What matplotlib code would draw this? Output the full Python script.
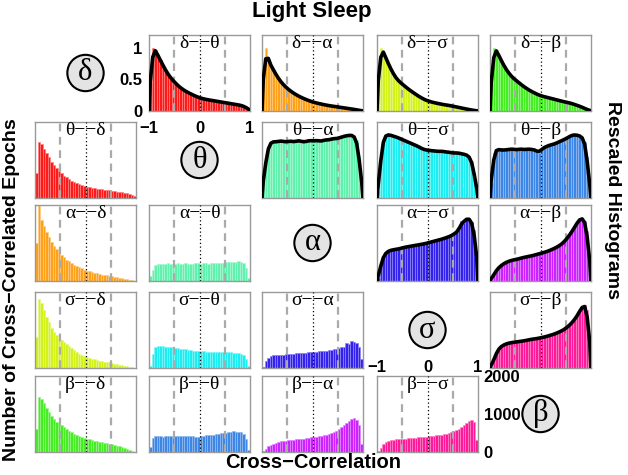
import numpy as np
import matplotlib
matplotlib.use("Agg")
import matplotlib.pyplot as plt
from matplotlib.colors import to_rgb

plt.rcParams['font.family'] = ['Liberation Sans', 'DejaVu Sans']

bands = ['δ', 'θ', 'α', 'σ', 'β']
bin_edges = np.linspace(-1, 1, 41)
centers = (bin_edges[:-1] + bin_edges[1:]) / 2

# counts of cross-correlated epochs, 40 bins over [-1, 1]
delta_theta = [660, 1475, 1420, 1300, 1180, 1070, 960, 860, 780, 710, 650, 590, 540, 500, 460, 430, 400, 370, 345, 320,
               300, 285, 270, 260, 250, 240, 230, 220, 210, 200, 190, 180, 170, 160, 150, 140, 130, 110, 80, 40]
delta_alpha = [1000, 2000, 1600, 1450, 1300, 1160, 1030, 920, 830, 750, 680, 620, 565, 515, 470, 430, 395, 360, 330, 300,
               275, 255, 235, 218, 200, 185, 170, 158, 146, 134, 122, 110, 98, 86, 74, 62, 50, 36, 22, 8]
delta_sigma = [820, 1810, 1700, 1520, 1350, 1200, 1060, 950, 860, 800, 740, 680, 620, 570, 520, 470, 420, 380, 340, 305,
               280, 260, 240, 225, 210, 195, 180, 170, 160, 145, 130, 115, 100, 85, 70, 55, 40, 28, 15, 5]
delta_beta = [600, 1460, 1400, 1280, 1160, 1050, 950, 870, 800, 740, 700, 650, 600, 560, 520, 480, 450, 420, 390, 365,
              345, 330, 315, 300, 285, 270, 255, 240, 225, 210, 200, 185, 170, 150, 130, 110, 85, 60, 35, 10]
theta_alpha = [120, 300, 420, 450, 460, 455, 460, 465, 460, 455, 460, 465, 455, 460, 470, 460, 455, 460, 465, 470,
               460, 470, 465, 460, 470, 475, 470, 480, 485, 480, 490, 495, 500, 510, 505, 515, 500, 470, 340, 80]
theta_sigma = [60, 380, 540, 575, 580, 575, 565, 560, 550, 540, 530, 520, 510, 500, 490, 480, 470, 455, 445, 440,
               435, 435, 430, 430, 425, 430, 425, 420, 420, 415, 410, 415, 410, 405, 400, 395, 380, 340, 230, 60]
theta_beta = [130, 380, 410, 415, 410, 405, 415, 410, 420, 415, 410, 415, 420, 410, 415, 420, 410, 415, 400, 385,
              420, 430, 440, 450, 455, 460, 470, 480, 490, 500, 510, 525, 535, 540, 535, 530, 520, 480, 350, 60]
alpha_sigma = [30, 180, 270, 310, 330, 340, 345, 350, 355, 360, 370, 375, 380, 385, 390, 395, 400, 405, 410, 415,
               425, 430, 440, 445, 455, 460, 470, 480, 490, 500, 520, 540, 560, 660, 640, 700, 690, 650, 560, 240]
alpha_beta = [20, 90, 150, 190, 220, 245, 265, 280, 290, 300, 305, 315, 325, 335, 340, 350, 355, 365, 375, 385,
              395, 405, 415, 430, 445, 460, 480, 500, 525, 560, 600, 650, 700, 760, 820, 870, 895, 850, 700, 220]
sigma_beta = [20, 110, 200, 260, 290, 310, 325, 335, 340, 345, 350, 355, 360, 365, 370, 380, 385, 390, 395, 400,
              410, 415, 425, 435, 445, 455, 470, 485, 500, 520, 545, 575, 610, 650, 700, 760, 820, 850, 780, 310]

pairs = {
    (0, 1): (delta_theta, '#ff1a1a'),
    (0, 2): (delta_alpha, '#ffa01a'),
    (0, 3): (delta_sigma, '#d2f21a'),
    (0, 4): (delta_beta, '#44ee22'),
    (1, 2): (theta_alpha, '#5ff2ad'),
    (1, 3): (theta_sigma, '#1aeef2'),
    (1, 4): (theta_beta, '#3c86e6'),
    (2, 3): (alpha_sigma, '#3322ee'),
    (2, 4): (alpha_beta, '#cc22ff'),
    (3, 4): (sigma_beta, '#ff1a99'),
}

W, H = 628, 475
col_left = [35, 149, 262, 377, 490]
row_top = [35, 122, 205, 292, 376]
pw, ph = 101, 76

fig = plt.figure(figsize=(W / 100, H / 100), dpi=100)


def make_axes(r, c):
    return fig.add_axes([col_left[c] / W, 1 - (row_top[r] + ph) / H, pw / W, ph / H])


def draw_panel(ax, vals, color, label, rescaled):
    vals = np.array(vals, dtype=float)
    edge = 0.55 * np.array(to_rgb(color)) + 0.45
    if rescaled:
        vals = vals / vals.max()
    ax.bar(centers, vals, width=0.05, color=color, edgecolor=edge, linewidth=0.5, zorder=1)
    if rescaled:
        sm = np.convolve(np.r_[0, vals, 0], [0.25, 0.5, 0.25], mode='same')[1:-1]
        ax.plot(np.r_[-1, centers, 1], np.r_[0, sm, 0], color='black', lw=2.6, zorder=4,
                solid_joinstyle='round')
        ax.set_ylim(0, 1.2)
    else:
        ax.set_ylim(0, 2000)
    for x in (-0.5, 0.5):
        ax.axvline(x, color='#aaaaaa', ls=(0, (3.5, 2.5)), lw=1.6, zorder=3)
    ax.axvline(0, color='black', ls=(0, (1, 2)), lw=0.9, zorder=3)
    ax.set_xlim(-1, 1)
    ax.set_xticks([])
    ax.set_yticks([])
    for s in ax.spines.values():
        s.set_color('#999999')
        s.set_linewidth(1)
    ax.text(0.5, 1.0, label, transform=ax.transAxes, ha='center', va='top',
            fontsize=14, family=['Liberation Serif', 'DejaVu Serif'], zorder=5)


for (i, j), (vals, color) in pairs.items():
    up = make_axes(i, j)
    draw_panel(up, vals, color, bands[i] + '−−' + bands[j], True)
    lo = make_axes(j, i)
    draw_panel(lo, vals, color, bands[j] + '−−' + bands[i], False)
    if (i, j) == (0, 1):
        up.set_yticks([0, 0.5, 1])
        up.set_yticklabels(['0', '0.5', '1'], fontweight='bold', fontsize=12)
        up.set_xticks([-1, 0, 1])
        up.set_xticklabels(['−1', '0', '1'], fontweight='bold', fontsize=12)
        up.tick_params(axis='y', length=0, pad=5)
        up.tick_params(axis='x', length=0, pad=7)
    if (i, j) == (3, 4):
        lo.xaxis.tick_top()
        lo.yaxis.tick_right()
        lo.set_xticks([-1, 0, 1])
        lo.set_xticklabels(['−1', '0', '1'], fontweight='bold', fontsize=12)
        lo.set_yticks([0, 1000, 2000])
        lo.set_yticklabels(['0', '1000', '2000'], fontweight='bold', fontsize=12)
        lo.tick_params(axis='x', length=0, pad=1)
        lo.tick_params(axis='y', length=0, pad=4)

for k, b in enumerate(bands):
    ax = make_axes(k, k)
    ax.axis('off')
    ax.text(0.5, 0.5, b, ha='center', va='center', fontsize=22,
            family=['Liberation Serif', 'DejaVu Serif'],
            bbox=dict(boxstyle='circle,pad=0.12', fc='#e4e4e4', ec='black', lw=1.5))

fig.text(312 / W, 1 - 12 / H, 'Light Sleep', ha='center', va='center', fontsize=16, fontweight='bold')
fig.text(313 / W, 1 - 463 / H, 'Cross−Correlation', ha='center', va='center', fontsize=14.5, fontweight='bold')
fig.text(12 / W, 1 - 290 / H, 'Number of Cross−Correlated Epochs', ha='center', va='center',
         rotation=90, fontsize=14, fontweight='bold')
fig.text(613 / W, 1 - 200 / H, 'Rescaled Histograms', ha='center', va='center',
         rotation=-90, fontsize=14, fontweight='bold')

fig.savefig('out.png', dpi=100)
